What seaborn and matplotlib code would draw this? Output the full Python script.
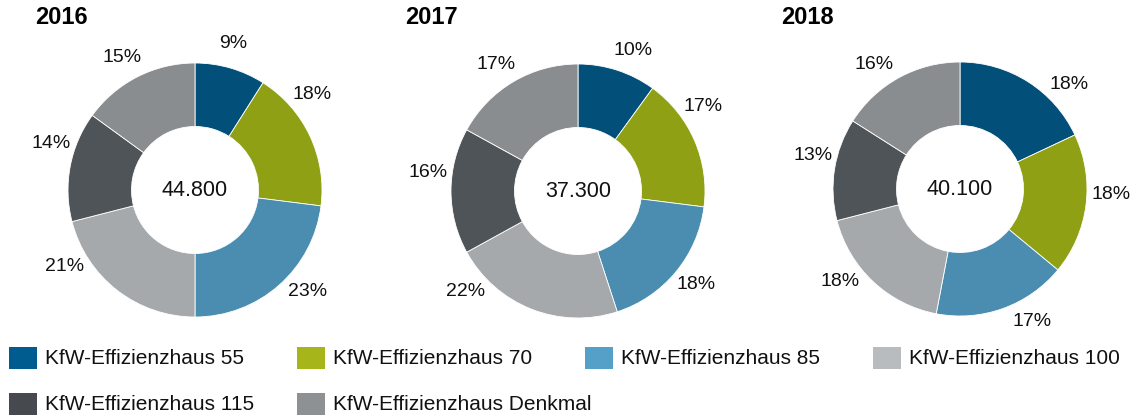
import matplotlib
matplotlib.use("Agg")
import matplotlib.pyplot as plt
import numpy as np
import seaborn as sns
from matplotlib.patches import Rectangle

# data
categories = ["KfW-Effizienzhaus 55", "KfW-Effizienzhaus 70", "KfW-Effizienzhaus 85",
              "KfW-Effizienzhaus 100", "KfW-Effizienzhaus 115", "KfW-Effizienzhaus Denkmal"]
years = ["2016", "2017", "2018"]
totals = ["44.800", "37.300", "40.100"]
shares_2016 = [9, 18, 23, 21, 14, 15]
shares_2017 = [10, 17, 18, 22, 16, 17]
shares_2018 = [18, 18, 17, 18, 13, 16]
shares = [shares_2016, shares_2017, shares_2018]

pie_colors = ["#02507A", "#90A015", "#4A8DB0", "#A5A9AC", "#4F5459", "#8A8D90"]
legend_colors = ["#005C8E", "#A5B51A", "#55A0C8", "#B9BCBF", "#46494D", "#8E9194"]

# layout: clockwise nudge (deg) of each percent label away from the wedge middle
label_shift = [[-1.5, -14, -6.6, 22, 7, -2],
               [3.4, -10.8, -1.2, 26.5, 7, -2.4],
               [13.6, -5, -8.6, 9.2, 4, -6]]

sns.set_theme(style="white")
plt.rcParams["font.family"] = ["Liberation Sans", "DejaVu Sans"]

W, H = 1135, 420
fig = plt.figure(figsize=(W / 100, H / 100), dpi=100)

centers = [(195, 190), (578, 191), (960, 189)]
title_x = [35, 405, 781]
R = 127
span = 1.35

for i, (cx, cy) in enumerate(centers):
    half = R * span
    ax = fig.add_axes([(cx - half) / W, (H - cy - half) / H, 2 * half / W, 2 * half / H])
    wedges, texts = ax.pie(shares[i], colors=pie_colors, startangle=90, counterclock=False,
                           radius=1, wedgeprops=dict(width=0.5, edgecolor="white", linewidth=0.6),
                           labels=[f"{v}%" for v in shares[i]], labeldistance=1.19,
                           textprops=dict(fontsize=14, color="#111111"))
    for w, t, s in zip(wedges, texts, label_shift[i]):
        ang = np.deg2rad((w.theta1 + w.theta2) / 2 - s)
        t.set_position((1.19 * np.cos(ang), 1.19 * np.sin(ang)))
        t.set_ha("center")
        t.set_va("center")
    ax.text(0, 0, totals[i], ha="center", va="center", fontsize=15.5, color="#111111")
    ax.set_xlim(-span, span)
    ax.set_ylim(-span, span)
    ax.set_aspect("equal")
    ax.axis("off")
    fig.text(title_x[i] / W, (H - 18) / H, years[i], fontsize=17, fontweight="bold",
             ha="left", va="center", color="#000000")

# legend
for j, (name, col) in enumerate(zip(categories, legend_colors)):
    r, c = divmod(j, 4)
    x0 = 9 + c * 288
    yc = 358 + r * 46
    fig.add_artist(Rectangle((x0 / W, (H - yc - 11) / H), 28 / W, 22 / H,
                             transform=fig.transFigure, color=col, lw=0))
    fig.text((x0 + 36) / W, (H - yc) / H, name, fontsize=15, ha="left", va="center",
             color="#111111")

fig.savefig("out.png", dpi=100)
